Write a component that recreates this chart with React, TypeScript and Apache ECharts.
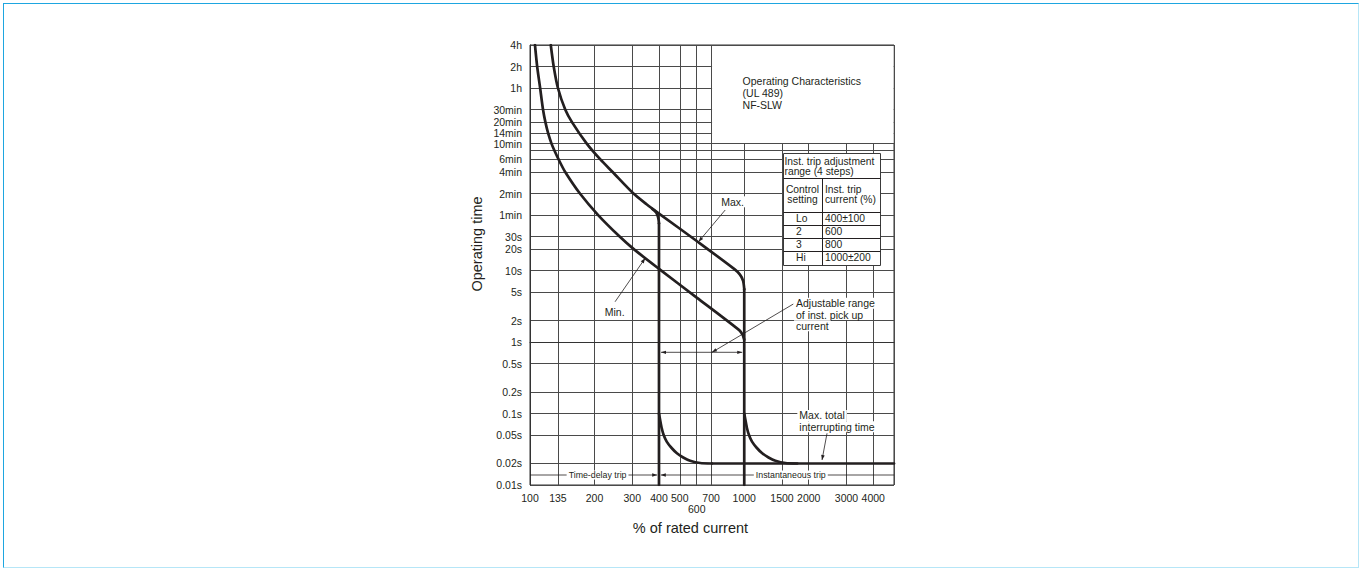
import React, { useEffect, useRef } from "react";
import * as echarts from "echarts";

// ---------------- data ----------------
const currentMin = 100;
const currentMax = 5000;
const timeMin = 0.01;
const timeMax = 14400;

// y-axis grid values (seconds) and their labels
const timeTickSeconds = [0.01, 0.02, 0.05, 0.1, 0.2, 0.5, 1, 2, 5, 10, 20, 30, 60, 120, 240, 360, 600, 840, 1200, 1800, 3600, 7200, 14400];
const timeTickLabels = ["0.01s", "0.02s", "0.05s", "0.1s", "0.2s", "0.5s", "1s", "2s", "5s", "10s", "20s", "30s", "1min", "2min", "4min", "6min", "10min", "14min", "20min", "30min", "1h", "2h", "4h"];
const unlabeledTimeGrid = [480];

// x-axis grid values (% of rated current) and their labels
const currentTicks = [100, 135, 200, 300, 400, 500, 600, 700, 1000, 1500, 2000, 3000, 4000];
const currentTickLabels = ["100", "135", "200", "300", "400", "500", "\n600", "700", "1000", "1500", "2000", "3000", "4000"];

// Min. characteristic
const minCurveCurrent = [105.5, 108, 111.5, 115, 118, 121.5, 126, 130, 136, 146, 171, 208, 262, 305, 400, 600, 950, 985, 1000];
const minCurveTime = [14400, 7200, 3600, 1800, 1200, 840, 600, 480, 360, 240, 120, 60, 30, 20, 10.6, 4.2, 1.46, 1.25, 1.08];

// Max. characteristic
const maxCurveCurrent = [125, 129, 135, 146, 157, 184, 213, 243, 304, 350, 400, 600, 900, 955, 988, 1000];
const maxCurveTime = [14400, 7200, 3600, 1800, 1200, 600, 360, 240, 120, 85, 63, 26, 10.5, 8.8, 7.2, 5.5];

// branch of Max. curve into the Lo instantaneous pick-up
const loBranchCurrent = [372, 388, 396, 400];
const loBranchTime = [73, 65, 56, 46];
const loVerticalCurrent = [400, 400];
const loVerticalTime = [46, 0.01];
const hiVerticalCurrent = [1000, 1000];
const hiVerticalTime = [5.5, 0.01];

// instantaneous clearing curves
const loClearCurrent = [400, 405, 412, 420.6, 434.6, 456, 485, 519, 559, 623, 707];
const loClearTime = [0.1, 0.0812, 0.0622, 0.0501, 0.0404, 0.0335, 0.0278, 0.0243, 0.0219, 0.0203, 0.02];
const hiClearCurrent = [1000, 1013, 1030, 1052, 1087, 1140, 1213, 1298, 1398, 1558, 1768];
const hiClearTime = [0.1, 0.0812, 0.0622, 0.0501, 0.0404, 0.0335, 0.0278, 0.0243, 0.0219, 0.0203, 0.02];
const interruptCurrent = [707, 5000];
const interruptTime = [0.02, 0.02];

// table
const controlSettings = ["Lo", "2", "3", "Hi"];
const instTripCurrents = ["400±100", "600", "800", "1000±200"];

// ---------------- styling ----------------
const FONT = '"Liberation Sans", Arial, Helvetica, sans-serif';
const INK = "#231f20";
const GRID = "#4a4a4a";

const lg = (v: number) => Math.log10(v);
const pairs = (xs: number[], ys: number[]) => xs.map((x, i) => [lg(x), lg(ys[i])]);
const nearestLabel = (vals: number[], labels: string[], v: number) => {
  for (let i = 0; i < vals.length; i++) if (Math.abs(lg(vals[i]) - v) < 1e-6) return labels[i];
  return "";
};

const lineSeries = (name: string, xs: number[], ys: number[], smooth: number | boolean) => ({
  name,
  type: "line",
  data: pairs(xs, ys),
  showSymbol: false,
  symbol: "none",
  smooth,
  silent: true,
  z: 3,
  lineStyle: { color: INK, width: 2.7, cap: "round", join: "round" },
});

export default function App() {
  const ref = useRef<HTMLDivElement>(null);

  useEffect(() => {
    if (!ref.current) return;
    const chart = echarts.init(ref.current, null, { renderer: "svg" });

    const xTickVals = [...currentTicks, currentMax].map(lg);
    const yTickVals = [...timeTickSeconds, ...unlabeledTimeGrid].sort((a, b) => a - b).map(lg);

    const option: any = {
      animation: false,
      textStyle: { fontFamily: FONT },
      grid: {
        left: 530,
        top: 45,
        width: 364,
        height: 440,
        show: true,
        borderColor: "#333",
        borderWidth: 1,
        backgroundColor: "transparent",
      },
      xAxis: {
        type: "value",
        min: lg(currentMin),
        max: lg(currentMax),
        axisLine: { show: true, lineStyle: { color: "#333", width: 1 } },
        axisTick: { show: false, customValues: xTickVals },
        axisLabel: {
          customValues: currentTicks.map(lg),
          formatter: (v: number) => nearestLabel(currentTicks, currentTickLabels, v),
          fontSize: 10.5,
          color: INK,
          margin: 7,
          lineHeight: 11,
          fontFamily: FONT,
        },
        splitLine: { show: true, lineStyle: { color: GRID, width: 1 } },
      },
      yAxis: {
        type: "value",
        min: lg(timeMin),
        max: lg(timeMax),
        axisLine: { show: true, lineStyle: { color: "#333", width: 1 } },
        axisTick: { show: false, customValues: yTickVals },
        axisLabel: {
          customValues: timeTickSeconds.map(lg),
          formatter: (v: number) => nearestLabel(timeTickSeconds, timeTickLabels, v),
          fontSize: 10.5,
          color: INK,
          margin: 8,
          fontFamily: FONT,
        },
        splitLine: { show: true, lineStyle: { color: GRID, width: 1 } },
      },
      series: [
        lineSeries("Min.", minCurveCurrent, minCurveTime, 0.25),
        lineSeries("Max.", maxCurveCurrent, maxCurveTime, 0.25),
        lineSeries("Lo branch", loBranchCurrent, loBranchTime, 0.4),
        lineSeries("Lo pick-up", loVerticalCurrent, loVerticalTime, false),
        lineSeries("Hi pick-up", hiVerticalCurrent, hiVerticalTime, false),
        lineSeries("Lo clearing", loClearCurrent, loClearTime, 0.2),
        lineSeries("Hi clearing", hiClearCurrent, hiClearTime, 0.2),
        lineSeries("Max. total interrupting time", interruptCurrent, interruptTime, false),
      ],
    };
    chart.setOption(option);

    const P = (I: number, t: number) =>
      chart.convertToPixel({ gridIndex: 0 }, [lg(I), lg(t)]) as unknown as number[];

    const els: any[] = [];
    const text = (x: number, y: number, s: string, size = 10.5, align = "left", bg = false, extra: any = {}) => {
      els.push({
        type: "text",
        x,
        y,
        z: 120,
        silent: true,
        ...extra,
        style: {
          text: s,
          fill: INK,
          font: `${size}px ${FONT}`,
          textAlign: align,
          align,
          textVerticalAlign: "middle",
          verticalAlign: "middle",
          ...(bg ? { backgroundColor: "#fff", padding: [0, 2, 0, 2] } : {}),
        },
      });
    };
    const seg = (a: number[], b: number[], w = 0.8, z = 110) => {
      els.push({
        type: "line",
        z,
        silent: true,
        shape: { x1: a[0], y1: a[1], x2: b[0], y2: b[1] },
        style: { stroke: INK, lineWidth: w },
      });
    };
    const head = (tip: number[], from: number[], len = 5, half = 1.8) => {
      const dx = tip[0] - from[0];
      const dy = tip[1] - from[1];
      const d = Math.hypot(dx, dy) || 1;
      const ux = dx / d, uy = dy / d;
      const bx = tip[0] - ux * len, by = tip[1] - uy * len;
      els.push({
        type: "polygon",
        z: 111,
        silent: true,
        shape: { points: [[tip[0], tip[1]], [bx - uy * half, by + ux * half], [bx + uy * half, by - ux * half]] },
        style: { fill: INK },
      });
    };
    const arrow = (from: number[], to: number[]) => {
      seg(from, to);
      head(to, from);
    };

    // title box
    const tbA = P(700, timeMax);
    const tbB = P(currentMax, 600);
    els.push({
      type: "rect",
      z: 100,
      silent: true,
      shape: { x: tbA[0] + 1, y: tbA[1] + 1, width: tbB[0] - tbA[0] - 1.5, height: tbB[1] - tbA[1] - 1.5 },
      style: { fill: "#fff" },
    });
    text(tbA[0] + 31.5, tbA[1] + 36, "Operating Characteristics");
    text(tbA[0] + 31.5, tbA[1] + 48, "(UL 489)");
    text(tbA[0] + 31.5, tbA[1] + 60, "NF-SLW");

    // table
    const tx0 = P(1500, 1)[0] + 1;
    const tx1 = tx0 + 97;
    const txm = tx0 + 39;
    const ty0 = tbB[1] + 9.5;
    const rowsY = [ty0, ty0 + 24.5, ty0 + 58.5, ty0 + 72, ty0 + 85, ty0 + 98, ty0 + 111.5];
    els.push({
      type: "rect",
      z: 100,
      silent: true,
      shape: { x: Math.round(tx0) + 0.5, y: Math.round(ty0) + 0.5, width: Math.round(tx1 - tx0), height: Math.round(rowsY[6] - ty0) },
      style: { fill: "#fff", stroke: "#3a3a3a", lineWidth: 1 },
    });
    for (let i = 1; i < 6; i++) {
      const yy = Math.round(rowsY[i]) + 0.5;
      seg([Math.round(tx0) + 0.5, yy], [Math.round(tx1) + 0.5, yy], 1, 105);
    }
    seg([Math.round(txm) + 0.5, Math.round(rowsY[1]) + 0.5], [Math.round(txm) + 0.5, Math.round(rowsY[6]) + 0.5], 1, 105);
    text(tx0 + 1.5, ty0 + 8, "Inst. trip adjustment", 10.3);
    text(tx0 + 1.5, ty0 + 18, "range (4 steps)", 10.3);
    text((tx0 + txm) / 2, ty0 + 36.5, "Control", 10.3, "center");
    text((tx0 + txm) / 2, ty0 + 46.5, "setting", 10.3, "center");
    text(txm + 3, ty0 + 36.5, "Inst. trip", 10.3);
    text(txm + 3, ty0 + 46.5, "current (%)", 10.3);
    for (let i = 0; i < controlSettings.length; i++) {
      const yc = (rowsY[i + 2] + rowsY[i + 3]) / 2;
      text(tx0 + 13, yc, controlSettings[i], 10.3);
      text(txm + 3, yc, instTripCurrents[i], 10.3);
    }

    // Max. / Min. callouts
    text(P(764, 92)[0], P(764, 92)[1], "Max.", 10.5, "left", true);
    arrow(P(815, 70.6), P(612, 25.4));
    text(P(218.6, 2.67)[0], P(218.6, 2.67)[1], "Min.", 10.5, "left", true);
    arrow(P(249.5, 3.67), P(344.6, 14.9));

    // adjustable range callout
    const adj = P(1707, 3.49);
    arrow(P(1694, 3.41), P(707, 0.72));
    text(adj[0], adj[1], "Adjustable range", 10.5, "left", true);
    text(adj[0], adj[1] + 11.2, "of inst. pick up", 10.5, "left", true);
    text(adj[0], adj[1] + 22.4, "current", 10.5, "left", true);
    const rl = P(400, 0.72);
    const rr = P(1000, 0.72);
    const l1 = [rl[0] + 2, rl[1]];
    const r1 = [rr[0] - 2, rr[1]];
    seg(l1, r1);
    head(l1, r1, 5, 1.6);
    head(r1, l1, 5, 1.6);

    // max total interrupting time callout
    const mti = P(1769, 0.094);
    arrow(P(2434, 0.0529), P(2307, 0.0224));
    text(mti[0], mti[1], "Max. total", 10.5, "left", true);
    text(mti[0], mti[1] + 11.2, "interrupting time", 10.5, "left", true);

    // trip zone bars
    const zoneT = 0.0138;
    const zl = P(currentMin, zoneT);
    const zm = P(400, zoneT);
    const zr = P(currentMax, zoneT);
    arrow(zl, [zm[0] - 1.8, zm[1]]);
    arrow(zr, [zm[0] + 1.8, zm[1]]);
    const tdt = P(206.7, zoneT);
    text(tdt[0], tdt[1], "Time-delay trip", 8.8, "center", true, {});
    const ist = P(1649, zoneT);
    text(ist[0], ist[1], "Instantaneous trip", 8.8, "center", true, {});

    // axis titles
    const xt = P(561, timeMin);
    text(xt[0], xt[1] + 43, "% of rated current", 14.5, "center");
    const yt = P(currentMin, 23.6);
    text(yt[0] - 53, yt[1], "Operating time", 14.5, "center", false, { rotation: Math.PI / 2 });

    chart.setOption({ graphic: { elements: els } });

    return () => chart.dispose();
  }, []);

  return (
    <div style={{ position: "fixed", left: 0, top: 0, width: 1362, height: 569, background: "#fff" }}>
      <div
        style={{
          position: "absolute",
          left: 3,
          top: 3,
          width: 1356,
          height: 565,
          boxSizing: "border-box",
          borderTop: "1.5px solid #1ea6e0",
          borderLeft: "1.5px solid #1ea6e0",
          borderRight: "1px solid #b6e6f7",
          borderBottom: "1px solid #b6e6f7",
        }}
      />
      <div ref={ref} style={{ position: "absolute", left: 0, top: 0, width: 1362, height: 569 }} />
    </div>
  );
}
